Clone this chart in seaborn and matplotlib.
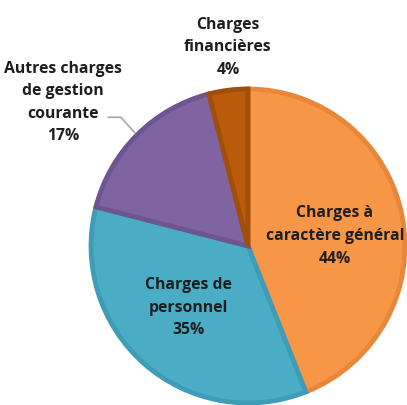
import numpy as np
import matplotlib.pyplot as plt
import seaborn as sns

sns.set_theme(style="white")
plt.rcParams['font.family'] = ['Open Sans', 'DejaVu Sans']

# données
categories = ["Charges à\ncaractère général", "Charges de\npersonnel",
              "Autres charges\nde gestion\ncourante", "Charges\nfinancières"]
shares = [44, 35, 17, 4]
colors = ["#F79646", "#4BACC6", "#8064A2", "#B95B0A"]
edges = ["#E8863A", "#3E9CB6", "#6E5590", "#A14E08"]

fig = plt.figure(figsize=(4.07, 4.06), dpi=100)
ax = fig.add_axes([0, 0, 1, 1])

wedges, _ = ax.pie(shares, colors=colors, startangle=90, counterclock=False,
                   radius=1, wedgeprops=dict(linewidth=3.5))
for w, ec in zip(wedges, edges):
    w.set_edgecolor(ec)

# position des étiquettes (rayon, décalage angulaire)
label_r = [0.558, 0.541, 1.494, 1.2775]
label_dang = [-3.6, -3.0, 7.0, -1.45]
for w, cat, pct, r, da in zip(wedges, categories, shares, label_r, label_dang):
    mid = np.deg2rad((w.theta1 + w.theta2) / 2 + da)
    ax.text(r * np.cos(mid), r * np.sin(mid), f"{cat}\n{pct}%",
            ha="center", va="center", fontsize=11.3, fontweight="bold",
            color="#1E1E1E", linespacing=1.55)

# trait de rappel pour "Autres charges"
w = wedges[2]
mid = np.deg2rad((w.theta1 + w.theta2) / 2)
ex, ey = 1.02 * np.cos(mid), 1.02 * np.sin(mid)
ax.plot([-0.89, -0.81, ex], [0.82, 0.82, ey], color="#A6A6A6", lw=1.2)

ax.set_xlim(-1.58, 1.013)
ax.set_ylim(-1.013, 1.573)
ax.set_aspect("equal")
ax.axis("off")

plt.savefig("out.png", dpi=100)
